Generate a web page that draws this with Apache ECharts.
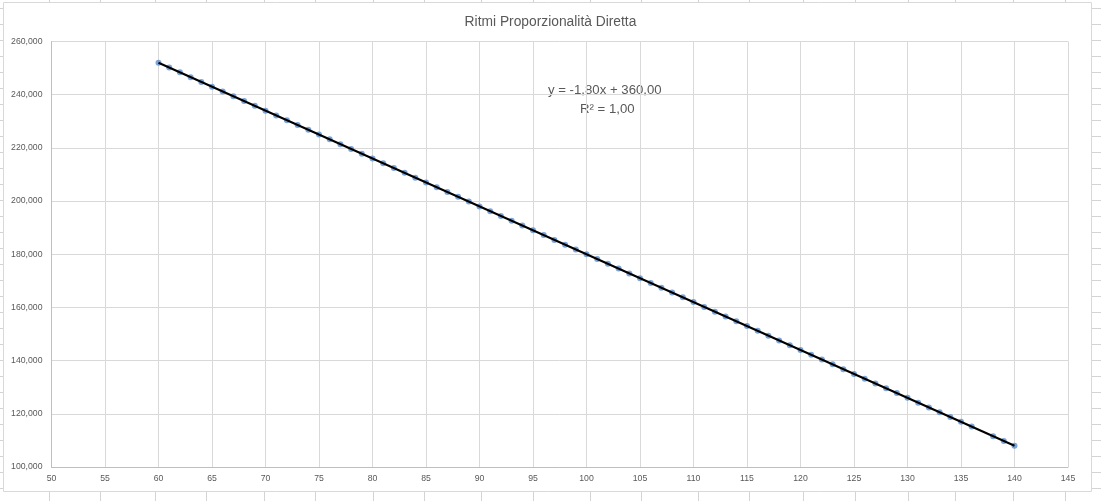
<!DOCTYPE html>
<html>
<head>
<meta charset="utf-8">
<script src="https://cdn.jsdelivr.net/npm/echarts@6/dist/echarts.min.js"></script>
<style>
html,body{margin:0;padding:0;background:#fff;}
#chart{width:1101px;height:501px;}
</style>
</head>
<body>
<div id="chart"></div>
<script>
// Data (x = rhythm, y = value); x = 137 is absent
const xValues = [60,61,62,63,64,65,66,67,68,69,70,71,72,73,74,75,76,77,78,79,80,81,82,83,84,85,86,87,88,89,90,91,92,93,94,95,96,97,98,99,100,101,102,103,104,105,106,107,108,109,110,111,112,113,114,115,116,117,118,119,120,121,122,123,124,125,126,127,128,129,130,131,132,133,134,135,136,138,139,140];
const yValues = [252,250.2,248.4,246.6,244.8,243,241.2,239.4,237.6,235.8,234,232.2,230.4,228.6,226.8,225,223.2,221.4,219.6,217.8,216,214.2,212.4,210.6,208.8,207,205.2,203.4,201.6,199.8,198,196.2,194.4,192.6,190.8,189,187.2,185.4,183.6,181.8,180,178.2,176.4,174.6,172.8,171,169.2,167.4,165.6,163.8,162,160.2,158.4,156.6,154.8,153,151.2,149.4,147.6,145.8,144,142.2,140.4,138.6,136.8,135,133.2,131.4,129.6,127.8,126,124.2,122.4,120.6,118.8,117,115.2,111.6,109.8,108];
// Linear trendline endpoints (y = -1,80x + 360,00)
const trendX = [60, 140];
const trendY = [252, 108];
const titleText = 'Ritmi Proporzionalità Diretta';
const equationText = 'y = -1,80x + 360,00';
const r2Text = 'R² = 1,00';

const points = xValues.map((x, i) => [x, yValues[i]]);
const trend = trendX.map((x, i) => [x, trendY[i]]);

const FONT = 'Liberation Sans';
const TXT = '#595959';

// decorative spreadsheet cell lines around the chart object
const graphics = [];
const colX = [49.5, 100.5, 155.5, 206.5, 264.5, 315.5, 373.5, 424.5, 481.5, 533.5, 590.5, 641.5, 698.5, 749.5, 803.5, 855.5, 908.5, 955.5, 1013.5, 1065.5];
colX.forEach(x => {
  graphics.push({type:'line', silent:true, shape:{x1:x,y1:0,x2:x,y2:2.5}, style:{stroke:'#d4d4d4',lineWidth:1}});
  graphics.push({type:'line', silent:true, shape:{x1:x,y1:492,x2:x,y2:501}, style:{stroke:'#d4d4d4',lineWidth:1}});
});
for (let y = 8.5; y < 501; y += 16) {
  graphics.push({type:'line', silent:true, shape:{x1:0,y1:y,x2:3,y2:y}, style:{stroke:'#d4d4d4',lineWidth:1}});
  graphics.push({type:'line', silent:true, shape:{x1:1092,y1:y,x2:1101,y2:y}, style:{stroke:'#d4d4d4',lineWidth:1}});
}
graphics.push({type:'rect', silent:true, shape:{x:3.5,y:2.5,width:1088,height:489}, style:{fill:'#fff',stroke:'#d9d9d9',lineWidth:1}, z:-10});
graphics.push({type:'text', silent:true, left:548, top:84, style:{text:equationText, fill:TXT, font:'13.2px "Liberation Sans"'}});
graphics.push({type:'text', silent:true, left:580, top:103, style:{text:r2Text, fill:TXT, font:'13.2px "Liberation Sans"'}});

const chart = echarts.init(document.getElementById('chart'), null, {renderer:'canvas'});
chart.setOption({
  animation:false,
  backgroundColor:'#fff',
  title:{
    text:titleText, left:'center', top:10,
    textStyle:{fontFamily:FONT, fontSize:13.8, fontWeight:'normal', color:TXT}
  },
  grid:{left:51.5, right:33, top:41.5, bottom:34, containLabel:false},
  xAxis:{
    type:'value', min:50, max:145, interval:5,
    axisLine:{show:true, onZero:false, lineStyle:{color:'#bfbfbf', width:1}},
    axisTick:{show:false},
    axisLabel:{fontFamily:FONT, fontSize:8.7, color:TXT, margin:7},
    splitLine:{show:true, lineStyle:{color:'#d9d9d9', width:1}}
  },
  yAxis:{
    type:'value', min:100, max:260, interval:20,
    axisLine:{show:true, onZero:false, lineStyle:{color:'#bfbfbf', width:1}},
    axisTick:{show:false},
    axisLabel:{fontFamily:FONT, fontSize:8.7, color:TXT, margin:9,
      formatter: v => v.toFixed(3).replace('.', ',')},
    splitLine:{show:true, lineStyle:{color:'#d9d9d9', width:1}}
  },
  series:[
    {type:'scatter', data:points, symbol:'circle', symbolSize:6,
     itemStyle:{color:'#5b8fd0'}, z:2},
    {type:'line', data:trend, symbol:'none', showSymbol:false,
     lineStyle:{color:'#000', width:2}, z:3}
  ],
  graphic:graphics
});
</script>
</body>
</html>
